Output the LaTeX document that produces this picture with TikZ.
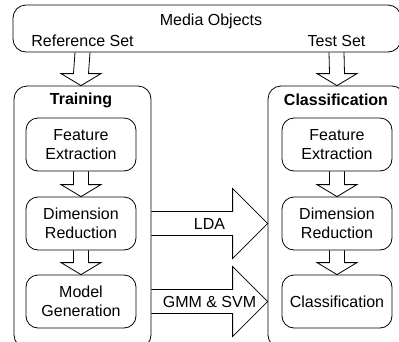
\documentclass[tikz,border=0pt]{standalone}
\usepackage{fontspec}
\setmainfont{Liberation Sans}
\usetikzlibrary{calc}
\def\fatdown(#1)(#2){\draw ($(#1)+(-7.5,0)$) -- ($(#2)+(-7.5,-12)$) -- ($(#2)+(-20,-12)$) -- (#2) -- ($(#2)+(20,-12)$) -- ($(#2)+(7.5,-12)$) -- ($(#1)+(7.5,0)$);}
\def\fatright(#1)(#2){\draw ($(#1)+(0,-12)$) -- ($(#2)+(-35,-12)$) -- ($(#2)+(-35,-35)$) -- (#2) -- ($(#2)+(-35,35)$) -- ($(#2)+(-35,12)$) -- ($(#1)+(0,12)$);}
\tikzset{
  every node/.style={font=\fontsize{16}{18.5}\selectfont},
  ttl/.style={font=\fontsize{16}{18.5}\selectfont\bfseries},
  panel/.style={draw, rounded corners=13pt, inner sep=0pt},
  box/.style={draw, rounded corners=12pt, align=center, inner sep=0pt, minimum width=110pt, minimum height=53pt}
}

\begin{document}
\begin{tikzpicture}[x=1pt, y=-1pt, line width=0.8pt]
			%%%%% START %%%%%
			\clip (0,0) rectangle (399,341);
			
			% media objects
			\node[panel, minimum width=388pt, minimum height=47pt] (media) at (207, 28.5) {};
			\node (mtxt) at (211, 21) {Media Objects};
			\node (ref) at (82.5, 41) {Reference Set};
			\node (test) at (336.5, 41) {Test Set};
			
			% training side
			\node[panel, minimum width=137pt, minimum height=262pt] (train) at (82.5, 217) {};
			\node[ttl] (trtitle) at (81, 100) {Training};
			\node[box] (fe1) at (81, 144.5) {Feature\\Extraction};
			\node[box] (dr1) at (81, 223.5) {Dimension\\Reduction};
			\node[box] (mg1) at (81, 301.5) {Model\\Generation};
			
			% classification side
			\node[panel, minimum width=137pt, minimum height=262pt] (cls) at (336.5, 217) {};
			\node[ttl] (cltitle) at (336, 100) {Classification};
			\node[box] (fe2) at (337, 144.5) {Feature\\Extraction};
			\node[box] (dr2) at (337, 223.5) {Dimension\\Reduction};
			\node[box] (cl2) at (337, 301.5) {Classification};
			
			% arrows
			\fatdown(ref |- media.south)(fe1 |- train.north)
			\fatdown(test |- media.south)(fe2 |- cls.north)
			\fatdown(fe1.south)(dr1.north)
			\fatdown(dr1.south)(mg1.north)
			\fatdown(fe2.south)(dr2.north)
			\fatdown(dr2.south)(cl2.north)
			
			\fatright(dr1 -| train.east)(dr1 -| cls.west)
			\node (lda) at ($(dr1 -| train.east)!0.5!(dr1 -| cls.west)$) {LDA};
			\fatright(mg1 -| train.east)(mg1 -| cls.west)
			\node (gmm) at ($(mg1 -| train.east)!0.5!(mg1 -| cls.west)$) {GMM \& SVM};
			
			%%%%% END %%%%%
\end{tikzpicture}
\end{document}
